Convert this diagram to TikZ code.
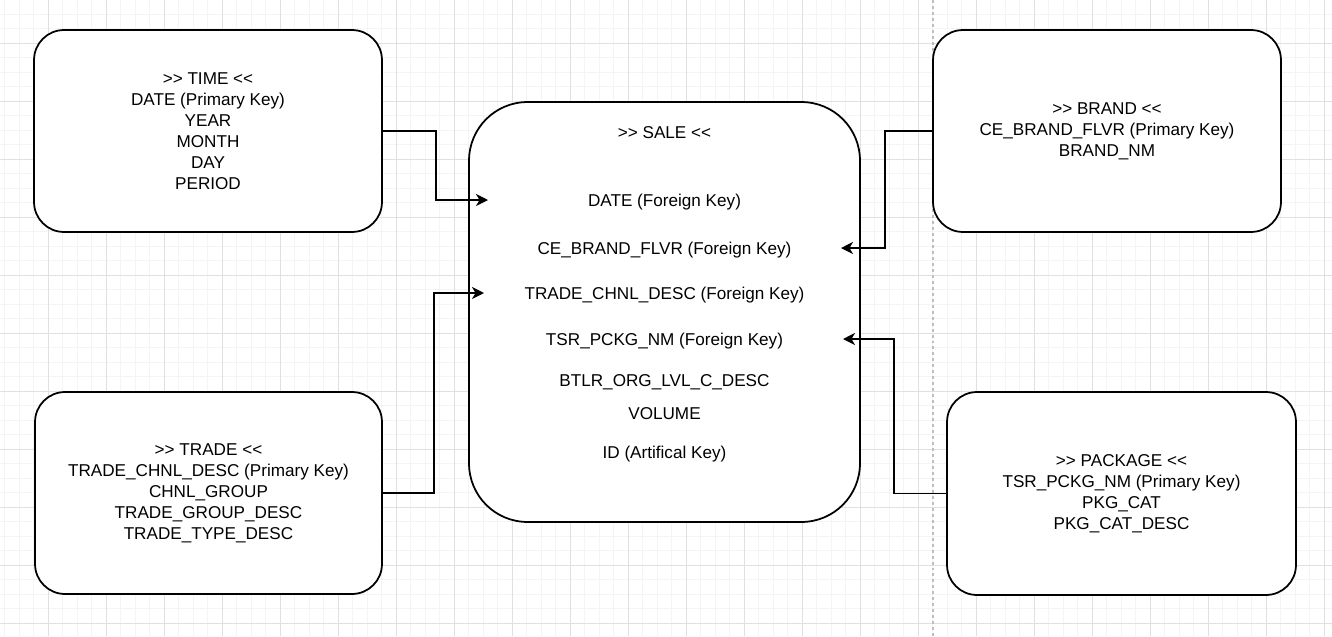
\documentclass[tikz,border=0pt]{standalone}
\usepackage{fontspec}
\setmainfont{Liberation Sans}
\usetikzlibrary{positioning, arrows.meta}
\tikzset{
    >=Stealth,
    every node/.style={inner sep=0pt}
}

\begin{document}
\begin{tikzpicture}[x=0.02cm, y=-0.02cm]
  % colours of the canvas (RGB avoids reliance on driver color sets)
  \definecolor{gridMinor}{RGB}{244,244,244}
  \definecolor{gridMajor}{RGB}{224,224,224}
  \definecolor{pageEdge}{RGB}{190,190,190}

  % common styles for tables, fields and links
  \tikzset{
    entity/.style={
      rectangle,
      draw=black,
      line width=1pt,
      fill=white,
      rounded corners=0.6cm,
      minimum width=6.96cm,
      minimum height=4.04cm,
      align=center,
      font=\fontsize{9.75}{11.9}\selectfont
    },
    field/.style={anchor=base, font=\fontsize{9.75}{11.9}\selectfont},
    link/.style={draw=black, line width=0.85pt,
      -{Stealth[length=0.24cm, width=0.24cm, inset=0.07cm]}}
  }

  \useasboundingbox (0,0) rectangle (1332,636);
  \fill[white] (0,0) rectangle (1332,636);

  % background grid (minor every 14.5px, major every 58px)
  \foreach \i in {0,...,91}
    \draw[gridMinor, line width=0.5pt] ({4.8+14.5*\i},0) -- ++(0,636);
  \foreach \j in {0,...,42}
    \draw[gridMinor, line width=0.5pt] (0,{14.3+14.5*\j}) -- ++(1332,0);
  \foreach \i in {0,...,22}
    \draw[gridMajor, line width=0.6pt] ({48.3+58*\i},0) -- ++(0,636);
  \foreach \j in {0,...,10}
    \draw[gridMajor, line width=0.6pt] (0,{43.3+58*\j}) -- ++(1332,0);

  % page break line
  \draw[pageEdge, line width=0.6pt, dash pattern=on 1.7pt off 1.7pt] (933,0) -- (933,636);

  % dimension tables
  \node[entity] (time) at (208,131)
    {>{}> TIME <{}<\\DATE (Primary Key)\\YEAR\\MONTH\\DAY\\PERIOD};
  \node[entity] (brand) at (1107,131)
    {>{}> BRAND <{}<\\CE\_BRAND\_FLVR (Primary Key)\\BRAND\_NM};
  \node[entity, minimum width=6.94cm] (trade) at (208.5,493)
    {>{}> TRADE <{}<\\TRADE\_CHNL\_DESC (Primary Key)\\CHNL\_GROUP\\TRADE\_GROUP\_DESC\\TRADE\_TYPE\_DESC};
  \node[entity, minimum width=6.98cm, minimum height=4.06cm] (package) at (1121.5,493.5)
    {>{}> PACKAGE <{}<\\TSR\_PCKG\_NM (Primary Key)\\PKG\_CAT\\PKG\_CAT\_DESC};

  % fact table
  \node[entity, minimum width=7.82cm, minimum height=8.4cm, rounded corners=1.17cm] (sale) at (664.5,312) {};
  \node[field] (saletitle) at (664.5,138) {>{}> SALE <{}<};
  \node[field] (fkdate)    at (664.5,206) {DATE (Foreign Key)};
  \node[field] (fkbrand)   at (664.5,254) {CE\_BRAND\_FLVR (Foreign Key)};
  \node[field] (fktrade)   at (664.5,299) {TRADE\_CHNL\_DESC (Foreign Key)};
  \node[field] (fkpackage) at (664.5,345) {TSR\_PCKG\_NM (Foreign Key)};
  \node[field] (btlr)      at (664.5,386) {BTLR\_ORG\_LVL\_C\_DESC};
  \node[field] (volume)    at (664.5,419) {VOLUME};
  \node[field] (saleid)    at (664.5,458) {ID (Artifical Key)};

  % arrow ends inside the fact table
  \coordinate (dateIn)    at (488,200);
  \coordinate (brandIn)   at (841,248);
  \coordinate (tradeIn)   at (484,293);
  \coordinate (packageIn) at (843,339);

  % key links
  \draw[link] (time.east) -- ++(53,0) |- (dateIn);
  \draw[link] (brand.west) -- ++(-47,0) |- (brandIn);
  \draw[link] (trade.east) -- ++(51,0) |- (tradeIn);
  \draw[link] (package.west) -- ++(-52,0) |- (packageIn);
\end{tikzpicture}
\end{document}
